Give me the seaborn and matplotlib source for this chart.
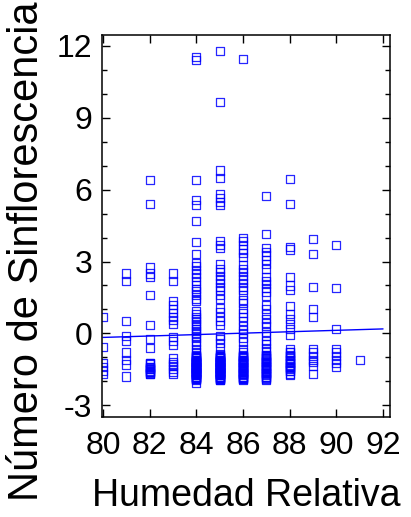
import matplotlib
matplotlib.use("Agg")
import matplotlib.pyplot as plt
import numpy as np
import pandas as pd
import seaborn as sns
from matplotlib.ticker import MultipleLocator, NullLocator

# Número de sinflorescencias registradas para cada nivel de humedad relativa (%)
sinf_80 = [0.7, -0.55, -1.25, -1.4, -1.55, -1.7]
sinf_81 = [2.5, 2.2, 0.5, -0.1, -0.3, -0.8, -1.1, -1.3, -1.8]
sinf_82 = [6.4, 5.4, 2.75, 2.5, 2.35, 1.6, 0.35, -0.25, -0.6, -1.25, -1.4,
           -1.5, -1.6, -1.7,
           -1.25, -1.4, -1.5, -1.6, -1.7, -1.3, -1.45, -1.55, -1.65]
sinf_83 = [2.5, 2.2, 1.35, 1.2, 1.0, 0.85, 0.7, 0.55, 0.4, -0.15, -0.3, -0.5,
           -1.05, -1.2, -1.35, -1.5, -1.7, -1.3, -1.6]
sinf_84 = [11.55, 11.4, 6.4, 5.55, 5.35, 4.7, 3.8, 3.3, 2.95, 2.8, 2.65, 2.5,
           2.35, 2.2, 2.0, 1.85, 1.75, 1.6, 1.45, 1.35, 0.95, 0.8, 0.7, 0.6,
           0.5, 0.4, 0.3, 0.2, 0.1, 0.0, -0.1, -0.2, -0.35, -0.5, -0.65, -0.8,
           -0.95, -1.1, -1.2, -1.3, -1.4, -1.5, -1.6, -1.7, -1.8, -1.9, -2.05,
           -0.9, -1.0, -1.1, -1.2, -1.3, -1.4, -1.5, -1.6, -1.7, -1.8, -1.9,
           -0.95, -1.05, -1.15, -1.25, -1.35, -1.45, -1.55, -1.65, -1.75, -1.85,
           -1.0, -1.1, -1.2, -1.3, -1.4, -1.5, -1.6, -1.7, -1.8, -1.9,
           -1.05, -1.15, -1.25, -1.35, -1.45, -1.55, -1.65, -1.75, -1.85, -1.95,
           -1.2, -1.3, -1.4, -1.5, -1.6, -1.7]
sinf_85 = [11.8, 9.65, 6.8, 6.5, 5.8, 5.65, 5.5, 5.35, 3.85, 3.7, 3.55, 2.9,
           2.7, 2.55, 2.4, 2.25, 2.1, 1.95, 1.8, 1.6, 1.45, 1.05, 0.9, 0.7,
           0.5, 0.35, -0.1, -0.25, -0.4, -0.6, -0.85, -1.0, -1.15, -1.3,
           -1.45, -1.6, -1.75, -1.95,
           -0.9, -1.0, -1.1, -1.2, -1.3, -1.4, -1.5, -1.6, -1.7, -1.8, -1.9,
           -0.95, -1.05, -1.15, -1.25, -1.35, -1.45, -1.55, -1.65, -1.75, -1.85,
           -1.0, -1.1, -1.2, -1.3, -1.4, -1.5, -1.6, -1.7, -1.8, -1.9,
           -1.05, -1.15, -1.25, -1.35, -1.45, -1.55, -1.65, -1.75, -1.85, -1.95,
           -1.2, -1.3, -1.4, -1.5, -1.6, -1.7,
           -1.0, -1.1, -1.2, -1.3, -1.4, -1.5, -1.6, -1.7, -1.8, -1.9]
sinf_86 = [11.45, 4.0, 3.85, 3.7, 3.5, 3.35, 3.2, 2.85, 2.7, 2.55, 2.4, 2.25,
           2.1, 1.95, 1.8, 1.6, 1.4, 1.25, 1.0, 0.85, 0.7, 0.5, 0.3, 0.15,
           0.0, -0.2, -0.35, -0.65, -0.8, -0.95, -1.1, -1.25, -1.4, -1.55,
           -1.7, -1.85, -1.95,
           -0.9, -1.0, -1.1, -1.2, -1.3, -1.4, -1.5, -1.6, -1.7, -1.8, -1.9,
           -0.95, -1.05, -1.15, -1.25, -1.35, -1.45, -1.55, -1.65, -1.75, -1.85,
           -1.0, -1.1, -1.2, -1.3, -1.4, -1.5, -1.6, -1.7, -1.8, -1.9]
sinf_87 = [5.75, 4.15, 3.55, 3.4, 3.25, 3.05, 2.9, 2.7, 2.35, 2.2, 2.05, 1.9,
           1.75, 1.55, 1.2, 1.0, 0.8, 0.6, 0.45, 0.3, 0.05, -0.1, -0.3, -0.45,
           -0.6, -0.75, -0.9, -1.05, -1.2, -1.35, -1.5, -1.65, -1.8, -1.95,
           -0.95, -1.05, -1.15, -1.25, -1.35, -1.45, -1.55, -1.65, -1.75, -1.85,
           -0.9, -1.0, -1.1, -1.2, -1.3, -1.4, -1.5, -1.6, -1.7, -1.8, -1.9]
sinf_88 = [6.45, 5.4, 3.6, 3.5, 2.35, 2.0, 1.8, 1.15, 0.8, 0.6, 0.4, 0.2,
           -0.05, -0.65, -0.8, -0.95, -1.1, -1.25, -1.4, -1.55, -1.75,
           -0.8, -0.95, -1.1, -1.25, -1.4, -1.55, -0.9, -1.05, -1.2, -1.35,
           -1.5, -1.7, -1.3, -1.45]
sinf_89 = [3.95, 3.3, 1.95, 1.0, 0.7, -0.65, -0.8, -0.95, -1.1, -1.2, -1.35,
           -1.7]
sinf_90 = [3.7, 1.9, 0.2, -0.65, -0.8, -0.95, -1.1, -1.25, -1.4]
sinf_91 = [-1.1]

humedad = [80, 81, 82, 83, 84, 85, 86, 87, 88, 89, 90, 91]
sinf_por_humedad = [sinf_80, sinf_81, sinf_82, sinf_83, sinf_84, sinf_85,
                    sinf_86, sinf_87, sinf_88, sinf_89, sinf_90, sinf_91]

x_ticks = [80, 82, 84, 86, 88, 90, 92]
y_ticks = [-3, 0, 3, 6, 9, 12]

df = pd.DataFrame({
    "Humedad Relativa": np.repeat(humedad, [len(v) for v in sinf_por_humedad]),
    "Sinflorescencias": np.concatenate(sinf_por_humedad),
})

sns.set_theme(style="ticks")
plt.rcParams["font.family"] = ["Liberation Sans", "DejaVu Sans"]
plt.rcParams["axes.unicode_minus"] = False

azul = "#0000ff"
fig = plt.figure(figsize=(4.11, 5.17), dpi=100)
ax = fig.add_axes([0.248, 0.193, 0.701, 0.739])
ax.set_xlim(80, 92)

# Dispersión con marcadores cuadrados abiertos y recta de mínimos cuadrados
sns.regplot(
    data=df, x="Humedad Relativa", y="Sinflorescencias", ax=ax,
    ci=None, truncate=False, color=azul, marker="s",
    scatter_kws=dict(facecolors="none", edgecolors=azul,
                     s=34, linewidths=0.9, alpha=0.85),
    line_kws=dict(color=azul, lw=1.0),
)

ax.set_xlim(79.95, 92.3)
ax.set_ylim(-3.5, 12.45)
ax.set_xticks(x_ticks)
ax.set_yticks(y_ticks)
ax.xaxis.set_minor_locator(NullLocator())
ax.yaxis.set_minor_locator(MultipleLocator(1))

ax.tick_params(which="both", direction="in", top=True, right=True,
               color="black", width=1.0)
ax.tick_params(which="major", length=6)
ax.tick_params(axis="x", which="major", pad=10)
ax.tick_params(axis="y", which="major", pad=7)
ax.tick_params(which="minor", length=3.5)
for lab in ax.get_xticklabels() + ax.get_yticklabels():
    lab.set_fontsize(23)
    lab.set_color("black")

for sp in ax.spines.values():
    sp.set_visible(True)
    sp.set_color("black")
    sp.set_linewidth(1.1)

ax.set_xlabel("Humedad Relativa", fontsize=27, color="black", va="top")
ax.xaxis.set_label_coords(0.5, -0.16)
ax.set_ylabel("Número de Sinflorescencia", fontsize=30, color="black",
              rotation=90, rotation_mode="default", ha="center", va="center")
ax.yaxis.set_label_coords(-0.26, 0.435)

fig.savefig("out.png", dpi=100)
